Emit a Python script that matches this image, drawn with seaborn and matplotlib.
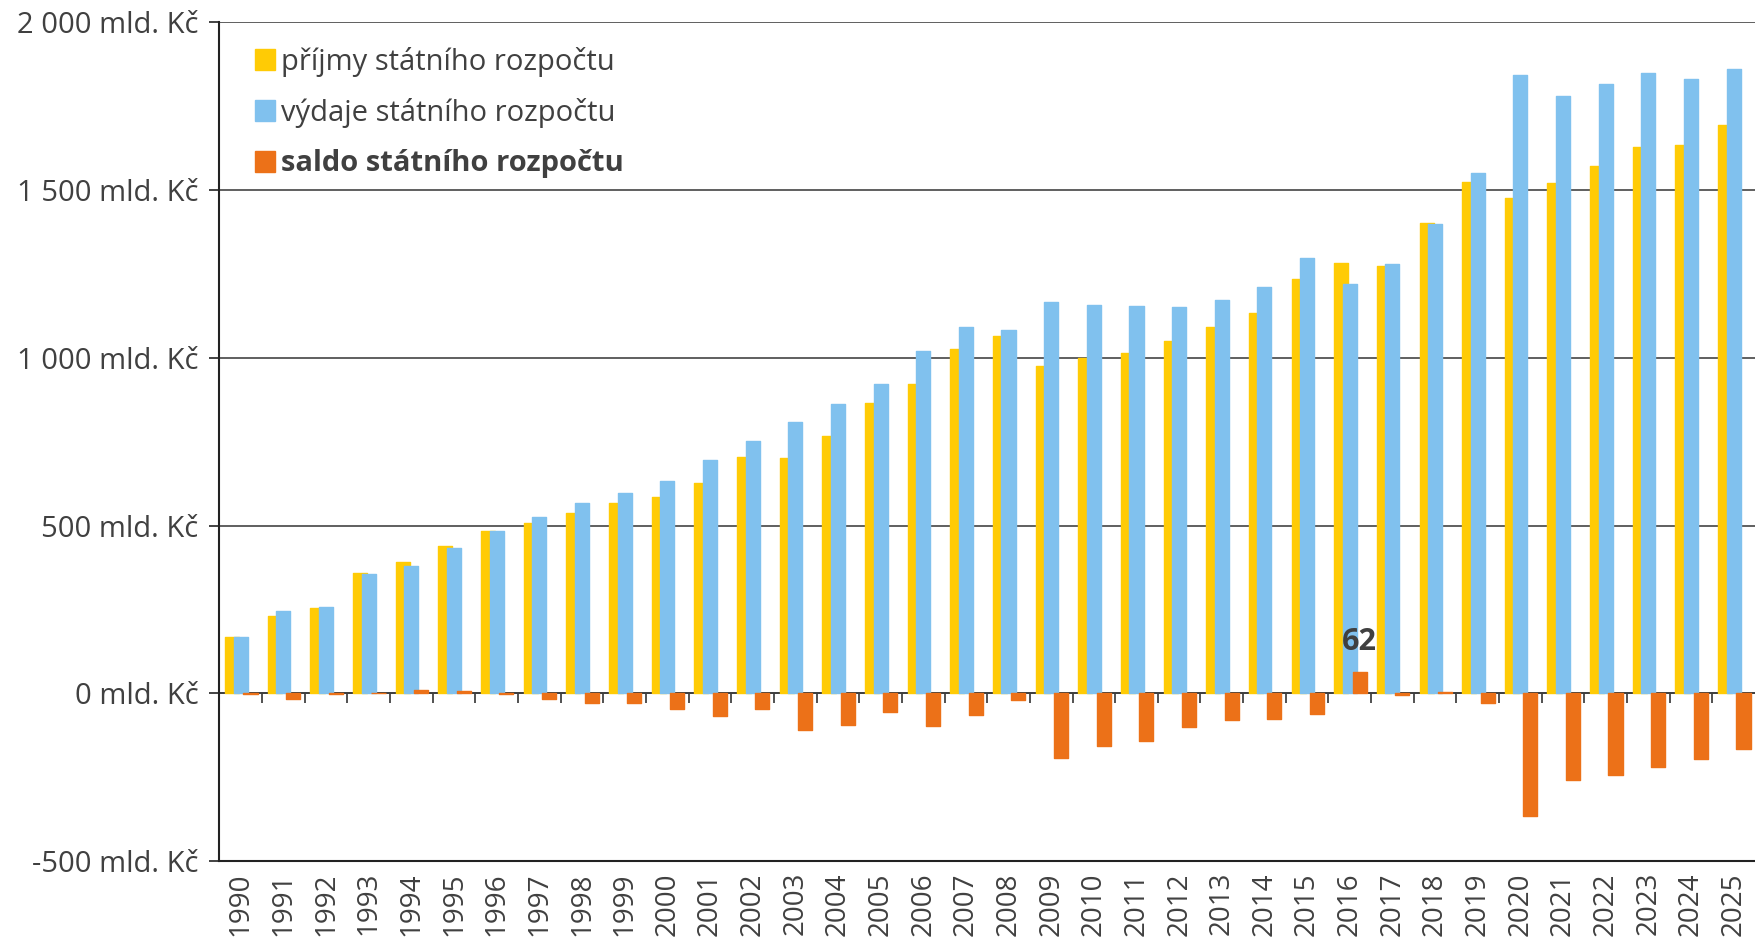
import numpy as np
import pandas as pd
import seaborn as sns
import matplotlib.pyplot as plt
from matplotlib.patches import Patch

sns.set_style("white")
plt.rcParams['font.family'] = ['Open Sans', 'DejaVu Sans']

TEXT = "#404040"
YELLOW = "#FFCB05"
BLUE = "#80C1EE"
ORANGE = "#EC7118"

# --- data (mld. Kč) ---
years = list(range(1990, 2026))
prijmy = [168, 230, 255, 358, 390, 440, 483, 509, 537, 567, 586, 626, 705, 702, 768,
          866, 922, 1026, 1064, 975, 1000, 1013, 1051, 1092, 1134, 1234, 1282, 1274,
          1402, 1524, 1476, 1521, 1573, 1628, 1635, 1694]
vydaje = [169, 246, 257, 357, 380, 433, 484, 525, 567, 597, 632, 694, 751, 809, 862,
          923, 1021, 1092, 1084, 1167, 1157, 1156, 1152, 1173, 1212, 1297, 1220, 1280,
          1399, 1552, 1843, 1781, 1816, 1848, 1830, 1860]
saldo = [-1, -16, -2, 1, 10, 7, -2, -16, -29, -30, -46, -68, -46, -109, -94,
         -56, -98, -66, -20, -192, -156, -143, -101, -81, -78, -63, 62, -6,
         3, -28, -367, -260, -243, -220, -195, -166]
labels = ["příjmy státního rozpočtu", "výdaje státního rozpočtu", "saldo státního rozpočtu"]
yticks = [-500, 0, 500, 1000, 1500, 2000]
ytick_labels = ["-500 mld. Kč", "0 mld. Kč", "500 mld. Kč", "1 000 mld. Kč",
                "1 500 mld. Kč", "2 000 mld. Kč"]
highlight_year = 2016

yrs = np.array(years, dtype=float)
series = [
    (prijmy, YELLOW, -0.20),
    (vydaje, BLUE, 0.0),
    (saldo, ORANGE, 0.23),
]

fig = plt.figure(figsize=(17.55, 9.38), dpi=100)
ax = fig.add_axes([0.125, 0.0821, 0.875, 0.8940])

for vals, col, off in series:
    df = pd.DataFrame({"x": yrs + off, "y": vals})
    sns.barplot(data=df, x="x", y="y", native_scale=True, width=0.33,
                color=col, saturation=1, errorbar=None, ax=ax,
                edgecolor=col, linewidth=1)

for p in ax.patches:
    p.set_joinstyle("round")

ax.set_xlim(years[0] - 0.5, years[-1] + 0.5)
ax.set_ylim(-500, 2000)
ax.set_xlabel("")
ax.set_ylabel("")

ax.set_yticks(yticks, labels=ytick_labels)
ax.set_xticks(years, labels=[str(y) for y in years])
ax.tick_params(axis="y", direction="out", length=7, width=1.2, color="#222",
               pad=8, labelsize=21, labelcolor=TEXT, left=True)
ax.tick_params(axis="x", length=0, pad=8, labelsize=20, labelcolor=TEXT,
               labelrotation=90)

ax.yaxis.grid(True, color="#444", linewidth=1.2)
ax.set_axisbelow(True)
for s in ["top", "right"]:
    ax.spines[s].set_visible(False)
for s in ["left", "bottom"]:
    ax.spines[s].set_color("#222")
    ax.spines[s].set_linewidth(1.5)

# zero line with category separators
zero_pos = (0 - yticks[0]) / (yticks[-1] - yticks[0])
sec = ax.secondary_xaxis(zero_pos)
sec.set_xticks([y + 0.5 for y in years[:-1]])
sec.tick_params(direction="out", length=7, width=1.2, color="#333",
                labelbottom=False, labeltop=False)
for s in sec.spines.values():
    s.set_color("#222")
    s.set_linewidth(1.3)

# annotate positive balance
i = years.index(highlight_year)
ax.annotate(f"{saldo[i]}", xy=(highlight_year + 0.23, saldo[i]), xytext=(0, 16),
            textcoords="offset points", ha="center", va="baseline",
            fontsize=22, fontweight="bold", color=TEXT)

handles = [Patch(facecolor=c, edgecolor=c, joinstyle="round")
           for c in [YELLOW, BLUE, ORANGE]]
leg = ax.legend(handles, labels, loc="upper left", bbox_to_anchor=(0.023, 0.971),
                frameon=False, fontsize=21, handlelength=0.68, handleheight=0.72,
                handletextpad=0.22, labelspacing=0.73, borderpad=0, borderaxespad=0)
for t in leg.get_texts():
    t.set_color(TEXT)
leg.get_texts()[2].set_fontweight("bold")

fig.savefig("out.png", dpi=100)
